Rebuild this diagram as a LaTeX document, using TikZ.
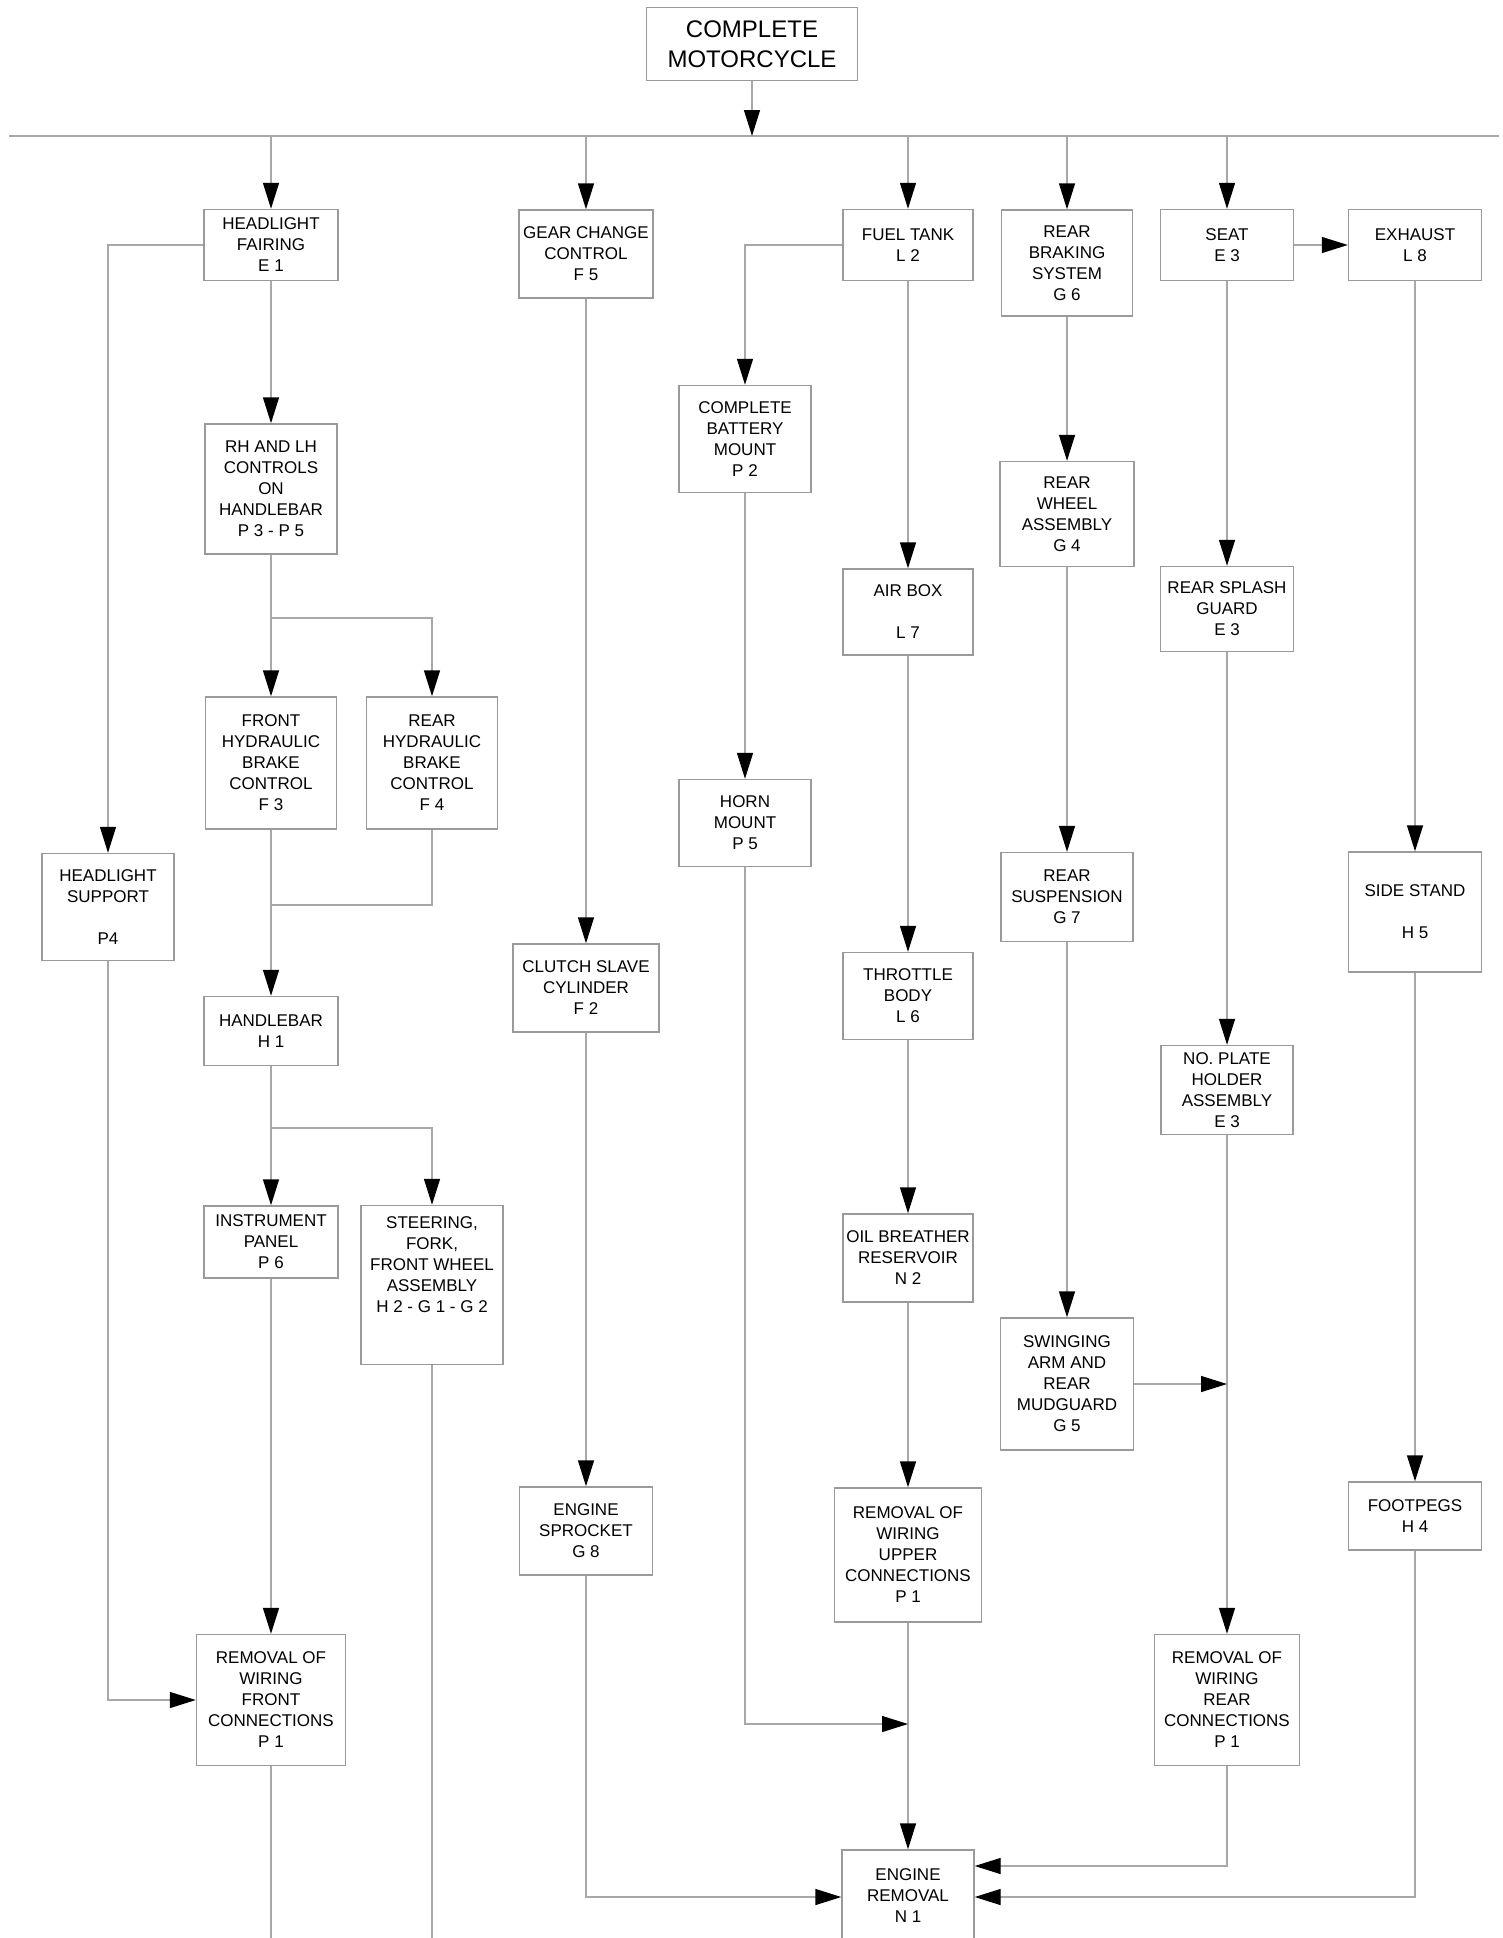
\documentclass[tikz,border=0pt]{standalone}
\usepackage{fontspec}
\setmainfont{Liberation Sans}
\usepackage{xcolor}
\usetikzlibrary{arrows.meta}
\definecolor{cLine}{HTML}{A8A8A8}
\definecolor{cBox}{HTML}{9A9A9A}
\definecolor{cTip}{HTML}{000000}

\begin{document}
\begin{tikzpicture}[x=0.5pt, y=-0.5pt,
    part/.style={draw=cBox, line width=0.7pt, fill=white, inner sep=0pt, align=center,
      minimum width=66.5pt, font=\fontsize{8.5}{10.5}\selectfont},
    link/.style={draw=cLine, line width=0.7pt},
    flow/.style={link, -{Triangle[length=13pt, width=8pt, color=cTip]}}]
  \useasboundingbox (0,0) rectangle (1503,1938);
  \clip (0,0) rectangle (1503,1938);
  \fill[white] (0,0) rectangle (1503,1938);

  \node[part, font=\fontsize{12}{15}\selectfont, minimum width=105.5pt, minimum height=36.5pt] (whole) at (752,44) {COMPLETE\\MOTORCYCLE};

  \node[part, minimum width=67pt, minimum height=35.5pt] (fairing) at (271,245) {HEADLIGHT\\FAIRING\\E 1};
  \node[part, minimum width=67pt, minimum height=44pt] (gear) at (586,254) {GEAR CHANGE\\CONTROL\\F 5};
  \node[part, minimum width=65pt, minimum height=35.5pt] (fuel) at (908,245) {FUEL TANK\\L 2};
  \node[part, minimum width=65.5pt, minimum height=53pt] (braking) at (1067,263) {REAR\\BRAKING\\SYSTEM\\G 6};
  \node[part, minimum height=35.5pt] (seat) at (1227,245) {SEAT\\E 3};
  \node[part, minimum height=35.5pt] (exhaust) at (1415,245) {EXHAUST\\L 8};

  \node[part, minimum width=66pt, minimum height=53.5pt] (hlsupport) at (108,907) {HEADLIGHT\\SUPPORT\\[10.5pt]P4};
  \node[part, minimum width=66pt, minimum height=65pt] (controls) at (271,489) {RH AND LH\\CONTROLS\\ON\\HANDLEBAR\\P 3 - P 5};
  \node[part, minimum width=65.5pt, minimum height=66pt] (fronthyd) at (271,763) {FRONT\\HYDRAULIC\\BRAKE\\CONTROL\\F 3};
  \node[part, minimum width=65.5pt, minimum height=66pt] (rearhyd) at (432,763) {REAR\\HYDRAULIC\\BRAKE\\CONTROL\\F 4};
  \node[part, minimum width=67pt, minimum height=34.5pt] (handlebar) at (271,1031) {HANDLEBAR\\H 1};
  \node[part, minimum width=67pt, minimum height=36pt] (instrument) at (271,1242) {INSTRUMENT\\PANEL\\P 6};
  \node[part, minimum width=71pt, minimum height=79.5pt] (steering) at (432,1285) {STEERING,\\FORK,\\FRONT WHEEL\\ASSEMBLY\\H 2 - G 1 - G 2\\[10pt]};
  \node[part, minimum width=74.5pt, minimum height=65.5pt] (wirefront) at (271,1700) {REMOVAL OF\\WIRING\\FRONT\\CONNECTIONS\\P 1};

  \node[part, minimum width=73pt, minimum height=44pt] (clutch) at (586,988) {CLUTCH SLAVE\\CYLINDER\\F 2};
  \node[part, minimum height=44pt] (sprocket) at (586,1531) {ENGINE\\SPROCKET\\G 8};

  \node[part, minimum width=66pt, minimum height=53.5pt] (battery) at (745,439) {COMPLETE\\BATTERY\\MOUNT\\P 2};
  \node[part, minimum width=66pt, minimum height=43.5pt] (horn) at (745,823) {HORN\\MOUNT\\P 5};

  \node[part, minimum width=65pt, minimum height=43pt] (airbox) at (908,612) {AIR BOX\\[10.5pt]L 7};
  \node[part, minimum width=65pt, minimum height=43.5pt] (throttle) at (908,996) {THROTTLE\\BODY\\L 6};
  \node[part, minimum width=65pt, minimum height=44pt] (breather) at (908,1258) {OIL BREATHER\\RESERVOIR\\N 2};
  \node[part, minimum width=73.5pt, minimum height=67pt] (wireupper) at (908,1555) {REMOVAL OF\\WIRING\\UPPER\\CONNECTIONS\\P 1};
  \node[part, minimum width=66pt, minimum height=46pt] (engine) at (908,1896) {ENGINE\\REMOVAL\\N 1};

  \node[part, minimum width=67pt, minimum height=52.5pt] (wheel) at (1067,514) {REAR\\WHEEL\\ASSEMBLY\\G 4};
  \node[part, minimum width=66pt, minimum height=44.5pt] (suspension) at (1067,897) {REAR\\SUSPENSION\\G 7};
  \node[part, minimum height=66pt] (swingarm) at (1067,1384) {SWINGING\\ARM AND\\REAR\\MUDGUARD\\G 5};

  \node[part, minimum height=42.5pt] (splash) at (1227,609) {REAR SPLASH\\GUARD\\E 3};
  \node[part, minimum width=66pt, minimum height=44.5pt] (plate) at (1227,1090) {NO. PLATE\\HOLDER\\ASSEMBLY\\E 3};
  \node[part, minimum width=72.5pt, minimum height=65.5pt] (wirerear) at (1227,1700) {REMOVAL OF\\WIRING\\REAR\\CONNECTIONS\\P 1};

  \node[part, minimum height=60pt] (sidestand) at (1415,912) {SIDE STAND\\[10.5pt]H 5};
  \node[part, minimum height=34pt] (footpegs) at (1415,1516) {FOOTPEGS\\H 4};

  \coordinate (busL) at (9,136);
  \coordinate (busR) at (1499,136);
  \coordinate (split1) at (271,618);
  \coordinate (merge1) at (271,905);
  \coordinate (split2) at (271,1128);
  \coordinate (joinH) at (908,1724);
  \coordinate (joinS) at (1227,1384);
  \coordinate (inL) at (engine.west |- 0,1897);
  \coordinate (inR1) at (engine.east |- 0,1866);
  \coordinate (inR2) at (engine.east |- 0,1897);
  \coordinate (outL) at (271,1938);
  \coordinate (outR) at (432,1938);

  \draw[link] (busL) -- (busR);
  \draw[flow] (whole) -- (whole |- busL);
  \foreach \n in {fairing, gear, fuel, braking, seat}
    \draw[flow] (\n |- busL) -- (\n);
  \draw[flow] (seat) -- (exhaust);

  \draw[flow] (fairing.west) -| (hlsupport);
  \draw[flow] (hlsupport) |- (wirefront);
  \draw[link] (controls) -- (split1);
  \draw[flow] (split1) -- (fronthyd);
  \draw[flow] (split1) -| (rearhyd);
  \draw[link] (fronthyd) -- (merge1);
  \draw[link] (rearhyd) |- (merge1);
  \draw[flow] (merge1) -- (handlebar);
  \draw[link] (handlebar) -- (split2);
  \draw[flow] (split2) -- (instrument);
  \draw[flow] (split2) -| (steering);
  \draw[link] (wirefront) -- (outL);
  \draw[link] (steering) -- (outR);

  \foreach \a/\b in {fairing/controls, instrument/wirefront, gear/clutch, clutch/sprocket,
      battery/horn, fuel/airbox, airbox/throttle, throttle/breather, breather/wireupper,
      wireupper/engine, braking/wheel, wheel/suspension, suspension/swingarm,
      seat/splash, splash/plate, plate/wirerear, exhaust/sidestand, sidestand/footpegs}
    \draw[flow] (\a) -- (\b);

  \draw[flow] (fuel.west) -| (battery);
  \draw[flow] (horn) |- (joinH);
  \draw[flow] (swingarm) -- (joinS);
  \draw[flow] (sprocket) |- (inL);
  \draw[flow] (wirerear) |- (inR1);
  \draw[flow] (footpegs) |- (inR2);
\end{tikzpicture}
\end{document}
